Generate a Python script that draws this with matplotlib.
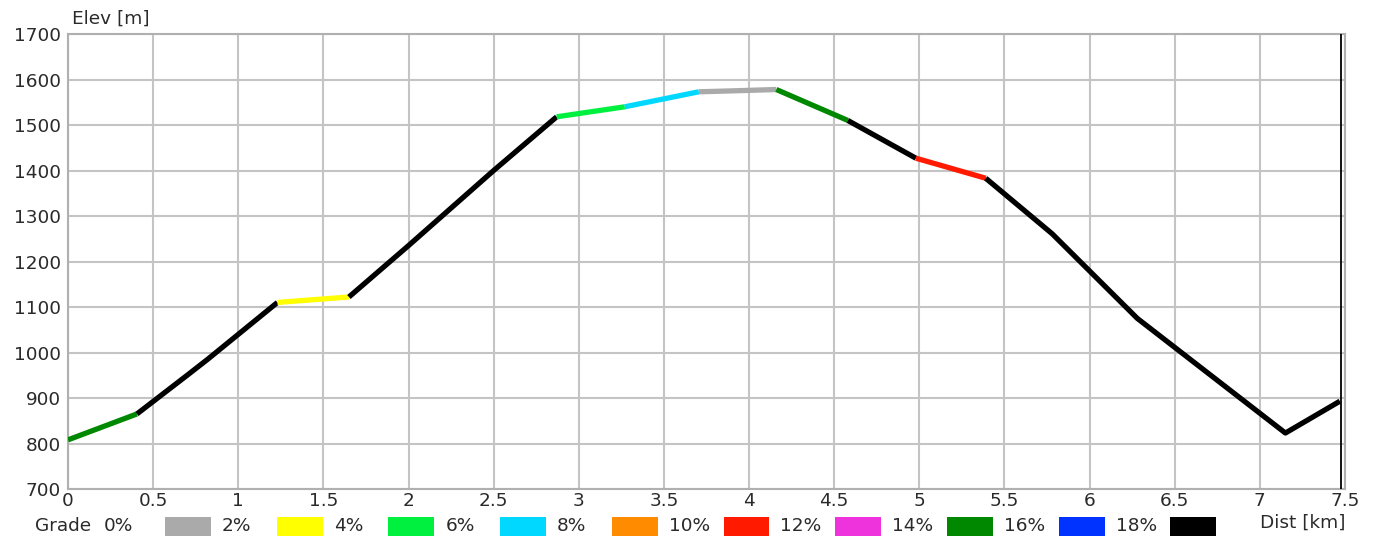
import matplotlib
matplotlib.use("Agg")
import matplotlib.pyplot as plt
from matplotlib.patches import Rectangle

# ---- data ----
dist_km = [0.0, 0.405, 0.70, 0.82, 1.23, 1.65, 2.0, 2.5, 2.87, 3.27, 3.705, 3.90, 4.16,
           4.58, 4.98, 5.39, 5.78, 6.28, 7.15, 7.47]
elev_m = [808, 865, 950, 985, 1110, 1122, 1235, 1400, 1518, 1540, 1573, 1575, 1578,
          1510, 1427, 1383, 1261, 1075, 823, 893]
# grade class of each segment (index into grade_colors)
seg_class = [7, 9, 9, 9, 1, 9, 9, 9, 2, 3, 0, 0, 7, 9, 5, 9, 9, 9, 9]

grade_labels = ["0%", "2%", "4%", "6%", "8%", "10%", "12%", "14%", "16%", "18%"]
grade_colors = ["#aaaaaa", "#ffff00", "#00f040", "#00d8ff", "#ff8c00",
                "#ff1a00", "#ee33dd", "#008800", "#0033ff", "#000000"]
end_marker_km = 7.475

x_ticks = [0, 0.5, 1, 1.5, 2, 2.5, 3, 3.5, 4, 4.5, 5, 5.5, 6, 6.5, 7, 7.5]
x_tick_labels = ["0", "0.5", "1", "1.5", "2", "2.5", "3", "3.5", "4", "4.5",
                 "5", "5.5", "6", "6.5", "7", "7.5"]
y_ticks = list(range(700, 1701, 100))

# ---- figure ----
W, H = 1375, 536
fig = plt.figure(figsize=(W / 100, H / 100), dpi=100)
plt.rcParams['font.family'] = ['DejaVu Sans']
FS = 13.3
TC = "#2a2a2a"

L, R, T, B = 68, 1345, 34, 489
ax = fig.add_axes([L / W, 1 - B / H, (R - L) / W, (B - T) / H])
ax.set_xlim(0, 7.5)
ax.set_ylim(700, 1700)
ax.set_xticks(x_ticks)
ax.set_xticklabels(x_tick_labels)
ax.set_yticks(y_ticks)
ax.grid(True, color="#c4c4c4", linewidth=1.5)
ax.set_axisbelow(True)
ax.tick_params(axis="both", length=0, labelsize=FS, colors=TC)
ax.tick_params(axis="x", pad=2)
ax.tick_params(axis="y", pad=5)
for s in ax.spines.values():
    s.set_color("#b0b0b0")
    s.set_linewidth(1.5)

# profile line: group consecutive segments of same class
i = 0
n = len(seg_class)
while i < n:
    j = i
    while j + 1 < n and seg_class[j + 1] == seg_class[i]:
        j += 1
    ax.plot(dist_km[i:j + 2], elev_m[i:j + 2], color=grade_colors[seg_class[i]],
            linewidth=3.8, solid_capstyle="butt", solid_joinstyle="round", zorder=3)
    i = j + 1

ax.axvline(end_marker_km, color="black", linewidth=1.3, zorder=4)

# axis titles
fig.text(72 / W, 1 - 19 / H, "Elev [m]", fontsize=FS, va="center", ha="left", color=TC)
fig.text(1345 / W, 1 - 523 / H, "Dist [km]", fontsize=FS, va="center", ha="right", color=TC)

# grade legend
ty = 1 - 526 / H
fig.text(35 / W, ty, "Grade", fontsize=FS, va="center", ha="left", color=TC)
fig.text(104 / W, ty, grade_labels[0], fontsize=FS, va="center", ha="left", color=TC)
x0, step, bw = 165, 111.7, 46
for k in range(len(grade_colors)):
    bx = x0 + k * step
    fig.patches.append(Rectangle((bx / W, 1 - 537 / H), bw / W, 20 / H,
                                 transform=fig.transFigure, facecolor=grade_colors[k],
                                 edgecolor="none"))
    if k + 1 < len(grade_labels):
        fig.text((bx + bw + 11) / W, ty, grade_labels[k + 1], fontsize=FS,
                 va="center", ha="left", color=TC)

fig.savefig("out.png", dpi=100)
